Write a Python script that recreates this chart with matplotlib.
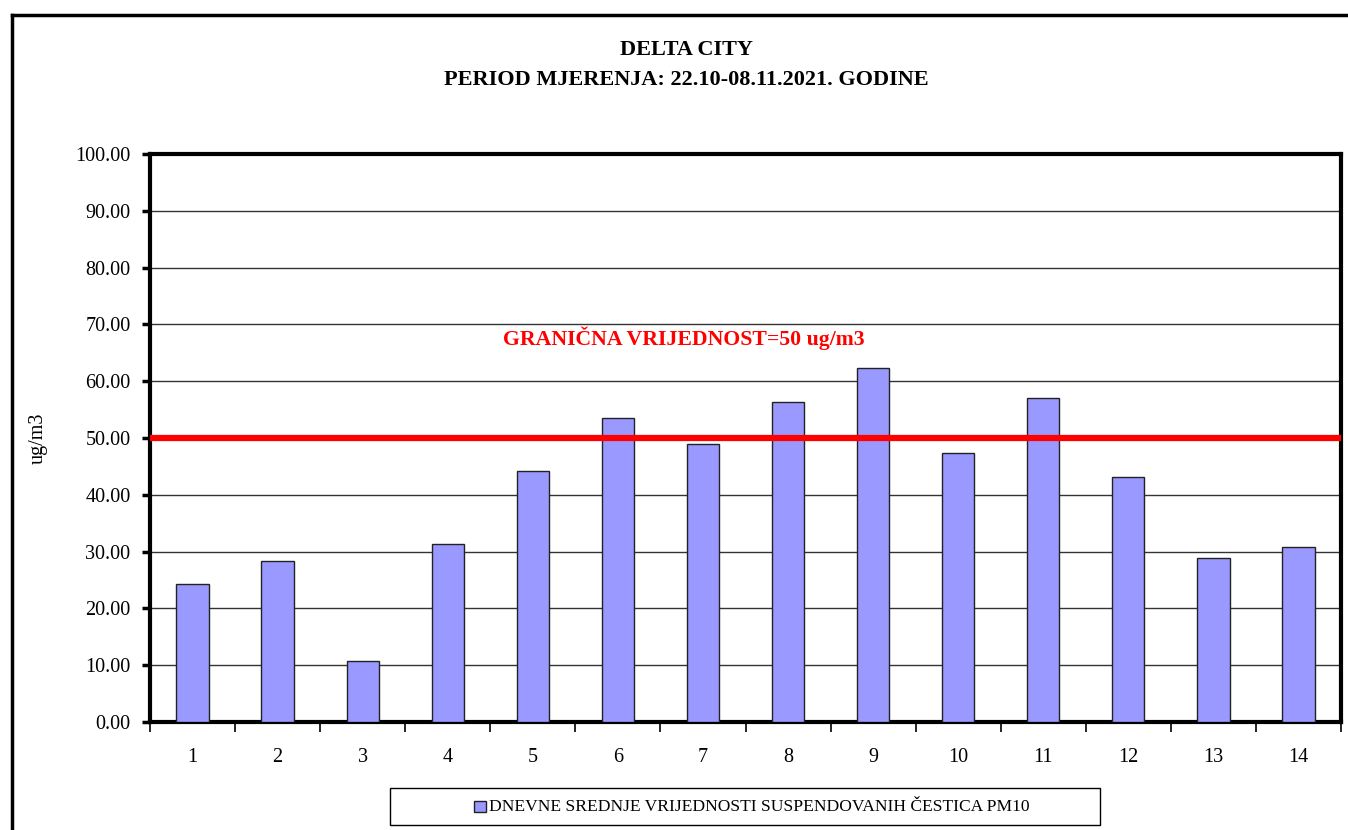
import matplotlib.pyplot as plt
from matplotlib.patches import Rectangle
from matplotlib.lines import Line2D
import numpy as np

plt.rcParams['font.family'] = ['Liberation Serif', 'DejaVu Serif']

# data
days = np.arange(1, 15)
pm10 = [24.3, 28.3, 10.7, 31.3, 44.2, 53.5, 48.9, 56.3, 62.3, 47.4, 57.0, 43.1, 28.9, 30.8]
limit = 50
yticks = np.arange(0, 101, 10)

W, H = 1348, 830
fig = plt.figure(figsize=(W / 100, H / 100), dpi=100)

def fx(px):
    return px / W

def fy(py):
    return 1 - py / H

# outer chart frame (runs off the right and bottom edges)
fig.add_artist(Line2D([fx(11.5), fx(1360)], [fy(15), fy(15)], color='black', lw=2.5))
fig.add_artist(Line2D([fx(11.5), fx(11.5)], [fy(15), fy(850)], color='black', lw=2.5))

ax = fig.add_axes([fx(150), fy(722), fx(1341) - fx(150), fy(154) - fy(722)])

ax.bar(days, pm10, width=0.38, color='#9999ff', edgecolor='#222222', linewidth=1, zorder=3)
ax.axhline(limit, color='#ff0000', lw=4.5, zorder=4)

ax.set_xlim(0.5, 14.5)
ax.set_ylim(0, 100)
ax.set_yticks(yticks)
ax.set_yticklabels(['%.2f' % v for v in yticks])
ax.yaxis.grid(True, color='#333333', lw=1, zorder=0)
ax.set_axisbelow(True)

ax.set_xticks(days)
ax.set_xticklabels([str(d) for d in days])
ax.set_xticks(np.arange(0.5, 15, 1), minor=True)
ax.tick_params(axis='x', which='major', length=0, pad=19, labelsize=14.5)
ax.tick_params(axis='x', which='minor', length=7, width=1.2, direction='out')
ax.tick_params(axis='y', length=6, width=2.5, direction='out', labelsize=14.5, pad=8)

for s in ax.spines.values():
    s.set_linewidth(3)
    s.set_color('black')

ax.set_ylabel('ug/m3', fontsize=14.5, labelpad=20)

ax.text(6.77, 67.5, 'GRANIČNA VRIJEDNOST=50 ug/m3', color='#ff0000', fontsize=15.7,
        fontweight='bold', ha='center', va='center')

fig.text(fx(686), fy(50), 'DELTA CITY', ha='center', va='center', fontsize=16, fontweight='bold')
fig.text(fx(686), fy(80), 'PERIOD MJERENJA: 22.10-08.11.2021. GODINE', ha='center', va='center',
         fontsize=16, fontweight='bold')

# legend box
fig.add_artist(Rectangle((fx(390), fy(825)), fx(1100) - fx(390), fy(788) - fy(825),
                         transform=fig.transFigure, fill=False, edgecolor='black', lw=1))
fig.add_artist(Rectangle((fx(474), fy(812)), fx(486) - fx(474), fy(801) - fy(812),
                         transform=fig.transFigure, facecolor='#9999ff', edgecolor='#222222', lw=1))
fig.text(fx(489), fy(807), 'DNEVNE SREDNJE VRIJEDNOSTI SUSPENDOVANIH ČESTICA PM10',
         ha='left', va='center', fontsize=12.6)

fig.savefig('out.png', dpi=100)
